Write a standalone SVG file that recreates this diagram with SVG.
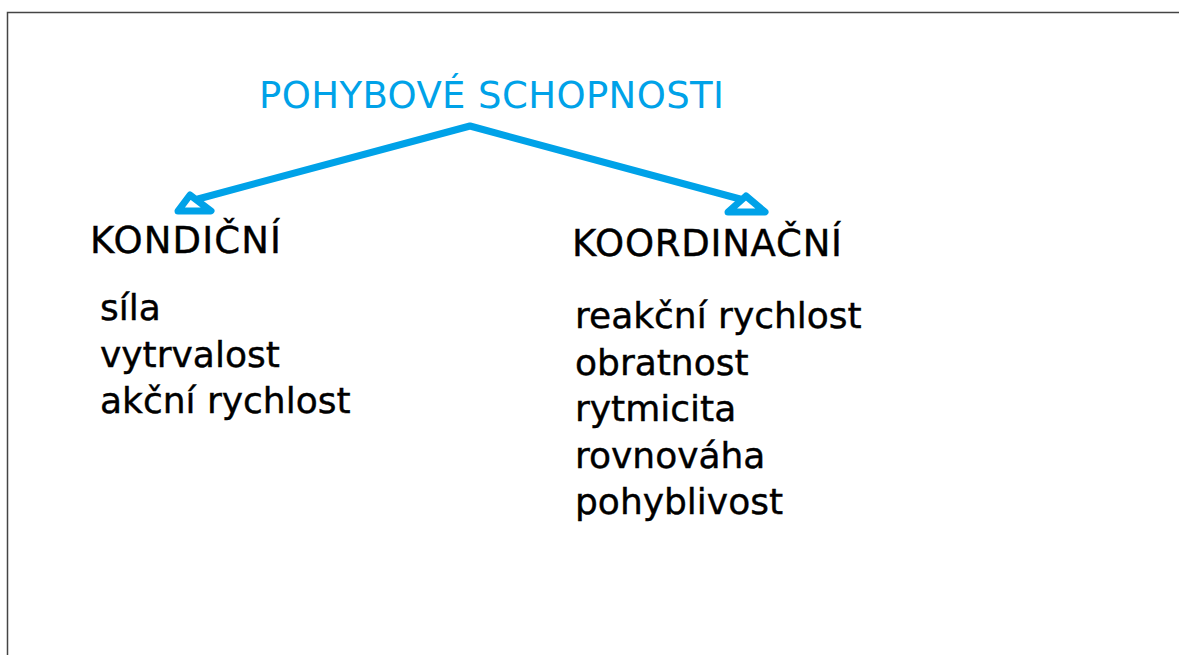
<svg xmlns="http://www.w3.org/2000/svg" width="1179" height="655" viewBox="0 0 1179 655">
<style>
.t{font-family:"DejaVu Sans",Verdana,sans-serif;font-size:36px;fill:#000;stroke:#000;stroke-width:0.4}
.h{font-size:37px}
.title{font-family:"DejaVu Sans",Verdana,sans-serif;font-size:37px;fill:#00a2e8}
.ln{fill:none;stroke:#00a2e8;stroke-width:7;stroke-linejoin:round;stroke-linecap:round}
</style>
<rect width="1179" height="655" fill="#fff"/>
<path d="M7.5,655 V12.5 H1179" fill="none" stroke="#444" stroke-width="1.5"/>
<g id="connectors">
<polyline class="ln" points="198,199 470,126 740,199"/>
<polygon class="ln" points="190,195 211,211 178,211"/>
<polygon class="ln" points="746,196 765,212 728,212"/>
</g>
<g id="root"><text class="title" x="259" y="108" textLength="465" lengthAdjust="spacing">POHYBOVÉ SCHOPNOSTI</text></g>
<g id="kondicni">
<text class="t h" x="90" y="253" textLength="191" lengthAdjust="spacing">KONDIČNÍ</text>
<text class="t" x="100" y="320">síla</text>
<text class="t" x="100" y="366.5">vytrvalost</text>
<text class="t" x="100" y="413">akční rychlost</text>
</g>
<g id="koordinacni">
<text class="t h" x="572" y="256" textLength="270" lengthAdjust="spacing">KOORDINAČNÍ</text>
<text class="t" x="575" y="328">reakční rychlost</text>
<text class="t" x="575" y="374.5">obratnost</text>
<text class="t" x="575" y="421">rytmicita</text>
<text class="t" x="575" y="467.5">rovnováha</text>
<text class="t" x="575" y="514">pohyblivost</text>
</g>
</svg>
